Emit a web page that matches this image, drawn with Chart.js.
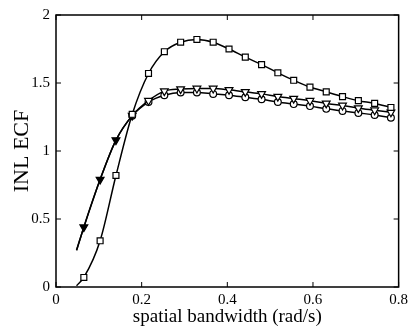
<!DOCTYPE html>
<html>
<head>
<meta charset="utf-8">
<script src="https://cdn.jsdelivr.net/npm/chart.js@4"></script>
<style>
  html, body { margin: 0; padding: 0; background: #fff; }
  #wrap { width: 412px; height: 331px; }
</style>
</head>
<body>
<div id="wrap"><canvas id="ecfChart" width="412" height="331"></canvas></div>
<script>
// spatial bandwidth (rad/s) - first entry is where the curves start, no marker there
const bandwidth = [0.048, 0.065, 0.103, 0.140, 0.178, 0.216, 0.253, 0.291, 0.329, 0.367, 0.404,
                   0.442, 0.480, 0.518, 0.555, 0.593, 0.631, 0.669, 0.706, 0.744, 0.782];
const squareEcf   = [0.01, 0.07, 0.34, 0.82, 1.27, 1.57, 1.73, 1.80, 1.82, 1.80, 1.75,
                     1.69, 1.635, 1.575, 1.52, 1.47, 1.435, 1.40, 1.37, 1.35, 1.32];
const triangleEcf = [0.27, 0.44, 0.79, 1.08, 1.26, 1.37, 1.44, 1.455, 1.46, 1.46, 1.45,
                     1.435, 1.42, 1.40, 1.385, 1.37, 1.35, 1.335, 1.315, 1.30, 1.285];
const circleEcf   = [0.27, 0.44, 0.79, 1.08, 1.26, 1.36, 1.41, 1.43, 1.43, 1.42, 1.41,
                     1.395, 1.38, 1.36, 1.345, 1.33, 1.31, 1.295, 1.28, 1.265, 1.245];
const xTicks = [0, 0.2, 0.4, 0.6, 0.8];
const yTicks = [0, 0.5, 1, 1.5, 2];

const SERIF = "'Liberation Serif', 'Times New Roman', serif";

function pts(ys) {
  return bandwidth.map((x, i) => ({ x, y: ys[i] }));
}

// matlab style box + inward ticks on all four sides
const boxTicks = {
  id: 'boxTicks',
  afterDatasetsDraw(chart) {
    const { ctx, chartArea: a, scales } = chart;
    const len = 5;
    ctx.save();
    ctx.strokeStyle = '#000';
    ctx.lineWidth = 1.5;
    ctx.strokeRect(a.left, a.top, a.right - a.left, a.bottom - a.top);
    ctx.lineWidth = 1;
    ctx.beginPath();
    xTicks.forEach(v => {
      const px = scales.x.getPixelForValue(v);
      ctx.moveTo(px, a.bottom); ctx.lineTo(px, a.bottom - len);
      ctx.moveTo(px, a.top);    ctx.lineTo(px, a.top + len);
    });
    yTicks.forEach(v => {
      const py = scales.y.getPixelForValue(v);
      ctx.moveTo(a.left, py);  ctx.lineTo(a.left + len, py);
      ctx.moveTo(a.right, py); ctx.lineTo(a.right - len, py);
    });
    ctx.stroke();
    ctx.restore();
  }
};

const lineBase = {
  showLine: true,
  borderColor: '#000',
  borderWidth: 1.5,
  cubicInterpolationMode: 'monotone',
  pointBorderColor: '#000',
  pointBorderWidth: 1.2,
  pointHoverRadius: 0
};

const noMarkFirst = (r, n) => bandwidth.map((_, i) => i < n ? 0 : r);

new Chart(document.getElementById('ecfChart'), {
  type: 'scatter',
  data: {
    datasets: [
      {
        ...lineBase,
        data: pts(squareEcf),
        pointStyle: 'rect',
        pointRadius: noMarkFirst(4.2, 1),
        pointBackgroundColor: '#fff',
        order: 1
      },
      {
        ...lineBase,
        data: pts(triangleEcf),
        pointStyle: 'triangle',
        rotation: 180,
        pointRadius: noMarkFirst(4.5, 1),
        pointBackgroundColor: bandwidth.map((_, i) => i < 5 ? '#000' : '#fff'),
        order: 2
      },
      {
        ...lineBase,
        data: pts(circleEcf),
        pointStyle: 'circle',
        pointRadius: noMarkFirst(3.4, 4),
        pointBackgroundColor: '#fff',
        order: 3
      }
    ]
  },
  options: {
    responsive: false,
    animation: false,
    events: [],
    layout: { padding: { left: 0, top: 13, right: 11, bottom: 0 } },
    plugins: { legend: { display: false }, tooltip: { enabled: false } },
    scales: {
      x: {
        type: 'linear',
        min: 0, max: 0.8,
        afterBuildTicks: s => { s.ticks = xTicks.map(v => ({ value: v })); },
        afterFit: s => { s.height = 44; },
        grid: { display: false, drawTicks: false },
        border: { display: false },
        ticks: { color: '#000', padding: 4, font: { family: SERIF, size: 15 }, maxRotation: 0,
                 callback: v => String(v) },
        title: {
          display: true,
          text: 'spatial bandwidth (rad/s)',
          color: '#000',
          font: { family: SERIF, size: 19 },
          padding: { top: 0, bottom: 3 }
        }
      },
      y: {
        type: 'linear',
        min: 0, max: 2,
        afterBuildTicks: s => { s.ticks = yTicks.map(v => ({ value: v })); },
        afterFit: s => { s.width = 56; },
        grid: { display: false, drawTicks: false },
        border: { display: false },
        ticks: { color: '#000', padding: 6, font: { family: SERIF, size: 15 },
                 callback: v => String(v) },
        title: {
          display: true,
          text: 'INL ECF',
          color: '#000',
          font: { family: SERIF, size: 22 },
          padding: { top: 9, bottom: 0 }
        }
      }
    }
  },
  plugins: [boxTicks]
});
</script>
</body>
</html>
